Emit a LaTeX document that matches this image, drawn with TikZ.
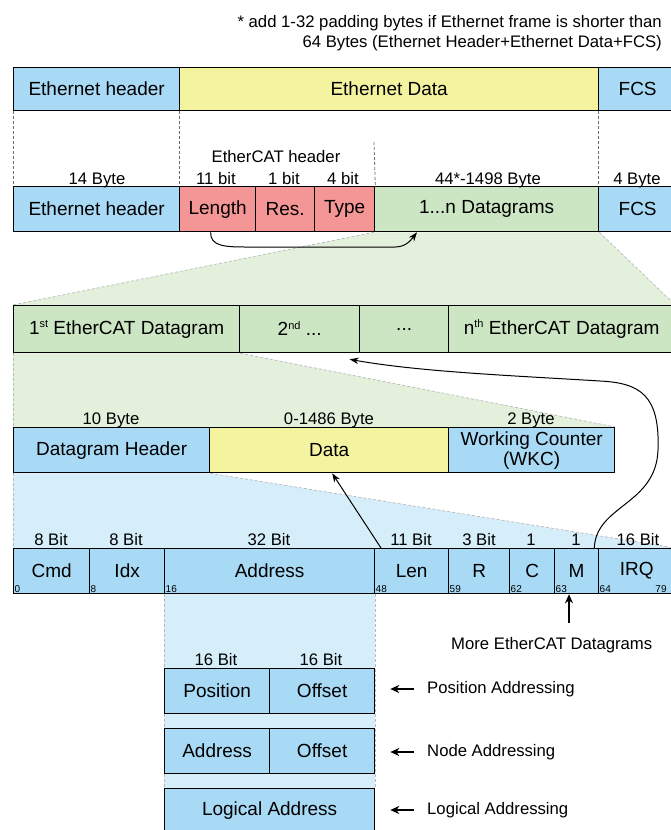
\documentclass[tikz,border=0pt]{standalone}
\usepackage{fontspec}
\setmainfont{Liberation Sans}
\usetikzlibrary{arrows.meta,backgrounds}
\definecolor{boxblue}{RGB}{168,218,246}
\definecolor{boxyellow}{RGB}{244,244,160}
\definecolor{boxpink}{RGB}{245,150,150}
\definecolor{boxgreen}{RGB}{204,230,196}
\definecolor{regg}{RGB}{226,240,220}
\definecolor{regb}{RGB}{214,238,250}
\newcommand\szM{\fontsize{19pt}{20pt}\selectfont}
\newcommand\szS{\fontsize{16.7pt}{19pt}\selectfont}
\newcommand\szT{\fontsize{10pt}{11pt}\selectfont}
\newcommand\supr[1]{\smash{\raisebox{6.5pt}{\fontsize{11pt}{12pt}\selectfont #1}}}
\begin{document}
\begin{tikzpicture}[x=1pt,y=-1pt,
  fld/.style={draw=black, line width=1.3pt, inner sep=0pt, anchor=north west, font=\szM, text=black},
  lbl/.style={font=\szS, inner sep=0pt, anchor=base, text=black},
  num/.style={font=\szT, inner sep=1.5pt, text=black},
  guide/.style={draw=gray!55, line width=0.7pt, dash pattern=on 3pt off 2pt},
  vguide/.style={draw=gray!85!black, line width=0.8pt, dash pattern=on 3pt off 2pt},
  arrthin/.style={draw=black, line width=1pt, -{Stealth[length=9pt,width=6.5pt]}},
  arrthick/.style={draw=black, line width=1.6pt, -{Stealth[length=9pt,width=8pt]}},
  ]
\useasboundingbox (0,0) rectangle (671,830);

% note
\node[lbl, anchor=base east] (note1) at (662,27) {* add 1-32 padding bytes if Ethernet frame is shorter than};
\node[lbl, anchor=base east] (note2) at (662,47) {64 Bytes (Ethernet Header+Ethernet Data+FCS)};

% row 1
\node[fld, fill=boxblue, minimum width=166pt, minimum height=43pt] (eh1) at (13,67) {Ethernet header};
\node[fld, fill=boxyellow, minimum width=419pt, minimum height=43pt] (ed1) at (179,67) {Ethernet Data};
\node[fld, fill=boxblue, minimum width=78pt, minimum height=43pt] (fcs1) at (598,67) {FCS};

% row 2
\node[fld, fill=boxblue, minimum width=166pt, minimum height=45pt] (eh2) at (13,186) {Ethernet header};
\node[fld, fill=boxpink, minimum width=76pt, minimum height=45pt] (len) at (179,186) {Length};
\node[fld, fill=boxpink, minimum width=59pt, minimum height=45pt] (res) at (255,186) {Res.};
\node[fld, fill=boxpink, minimum width=60pt, minimum height=45pt] (typ) at (314,186) {Type};
\node[fld, fill=boxgreen, minimum width=224pt, minimum height=45pt] (dg) at (374,186) {1...n Datagrams};
\node[fld, fill=boxblue, minimum width=78pt, minimum height=45pt] (fcs2) at (598,186) {FCS};

\node[lbl] (ech) at (276,162) {EtherCAT header};
\node[lbl] (b14) at (97,184) {14 Byte};
\node[lbl] (b11) at (216,184) {11 bit};
\node[lbl] (b1) at (284,184) {1 bit};
\node[lbl] (b4) at (343,184) {4 bit};
\node[lbl] (b44) at (488,184) {44*-1498 Byte};
\node[lbl] (b4B) at (637,184) {4 Byte};

\draw[vguide] (eh1.south west) -- (eh2.north west);
\draw[vguide] (ed1.south west) -- (len.north west);
\draw[vguide] (fcs1.south west) -- (fcs2.north west);
\coordinate (ectop) at (374,142);
\draw[vguide] (ectop) -- (typ.north east);

% datagram row
\node[fld, fill=boxgreen, minimum width=226pt, minimum height=47pt] (d1) at (13,305) {1\supr{st} EtherCAT Datagram};
\node[fld, fill=boxgreen, minimum width=120pt, minimum height=47pt] (d2) at (239,305) {2\supr{nd} ...};
\node[fld, fill=boxgreen, minimum width=89pt, minimum height=47pt] (d3) at (359,305) {...};
\node[fld, fill=boxgreen, minimum width=226pt, minimum height=47pt] (dn) at (448,305) {n\supr{th} EtherCAT Datagram};

% datagram structure
\node[fld, fill=boxblue, minimum width=196pt, minimum height=45pt] (dh) at (13,427) {Datagram Header};
\node[fld, fill=boxyellow, minimum width=239pt, minimum height=45pt] (data) at (209,427) {Data};
\node[fld, fill=boxblue, minimum width=166pt, minimum height=45pt, align=center] (wkc) at (448,427) {Working Counter\\(WKC)};
\node[lbl] (l10) at (111,424) {10 Byte};
\node[lbl] (l1486) at (329,424) {0-1486 Byte};
\node[lbl] (l2) at (531,424) {2 Byte};

% header fields
\node[fld, fill=boxblue, minimum width=76pt, minimum height=45pt] (cmd) at (13,548) {Cmd};
\node[fld, fill=boxblue, minimum width=75pt, minimum height=45pt] (idx) at (89,548) {Idx};
\node[fld, fill=boxblue, minimum width=210pt, minimum height=45pt] (addr) at (164,548) {Address};
\node[fld, fill=boxblue, minimum width=74pt, minimum height=45pt] (lenf) at (374,548) {Len};
\node[fld, fill=boxblue, minimum width=61pt, minimum height=45pt] (rf) at (448,548) {R};
\node[fld, fill=boxblue, minimum width=45pt, minimum height=45pt] (cf) at (509,548) {C};
\node[fld, fill=boxblue, minimum width=44pt, minimum height=45pt] (mf) at (554,548) {M};
\node[fld, fill=boxblue, minimum width=76pt, minimum height=45pt] (irq) at (598,548) {IRQ};

\node[lbl] (t1) at (51,545) {8 Bit};
\node[lbl] (t2) at (126,545) {8 Bit};
\node[lbl] (t3) at (269,545) {32 Bit};
\node[lbl] (t4) at (411,545) {11 Bit};
\node[lbl] (t5) at (479,545) {3 Bit};
\node[lbl] (t6) at (531,545) {1};
\node[lbl] (t7) at (576,545) {1};
\node[lbl] (t8) at (638,545) {16 Bit};

\node[num, anchor=south west] (n0) at (cmd.south west) {0};
\node[num, anchor=south west] (n8) at (idx.south west) {8};
\node[num, anchor=south west] (n16) at (addr.south west) {16};
\node[num, anchor=south west] (n48) at (lenf.south west) {48};
\node[num, anchor=south west] (n59) at (rf.south west) {59};
\node[num, anchor=south west] (n62) at (cf.south west) {62};
\node[num, anchor=south west] (n63) at (mf.south west) {63};
\node[num, anchor=south west] (n64) at (irq.south west) {64};
\node[num, anchor=south east] (n79) at ([xshift=-7pt]irq.south east) {79};

% addressing
\node[fld, fill=boxblue, minimum width=105pt, minimum height=45pt] (pos) at (164,668) {Position};
\node[fld, fill=boxblue, minimum width=105pt, minimum height=45pt] (off1) at (269,668) {Offset};
\node[fld, fill=boxblue, minimum width=105pt, minimum height=45pt] (nad) at (164,728) {Address};
\node[fld, fill=boxblue, minimum width=105pt, minimum height=45pt] (off2) at (269,728) {Offset};
\node[fld, fill=boxblue, minimum width=210pt, minimum height=44pt] (lga) at (164,788) {Logical Address};
\node[lbl] (s1) at (216,665) {16 Bit};
\node[lbl] (s2) at (321,665) {16 Bit};

\node[lbl, anchor=west] (pa) at (427,689) {Position Addressing};
\node[lbl, anchor=west] (na) at (427,752) {Node Addressing};
\node[lbl, anchor=west] (la) at (427,810) {Logical Addressing};
\draw[arrthick, shorten <=13pt, shorten >=15pt] (pa.west) -- (pa.west -| off1.east);
\draw[arrthick, shorten <=13pt, shorten >=15pt] (na.west) -- (na.west -| off2.east);
\draw[arrthick, shorten <=13pt, shorten >=15pt] (la.west) -- (la.west -| lga.east);

\node[lbl, anchor=base west] (md) at (451,649) {More EtherCAT Datagrams};
\coordinate (mtail) at (569,623);
\draw[arrthick] (mtail) -- (mtail |- mf.south);

% connectors
\draw[arrthin] ([xshift=-7pt]len.south) .. controls (210,246) and (225,247) .. (245,247) -- (395,247) .. controls (406,247) and (411,240) .. ([xshift=43pt]dg.south west);
\draw[arrthin] ([xshift=7pt]lenf.north west) -- ([xshift=3pt]data.south);
\draw[arrthin] ([xshift=-5pt]mf.north east) .. controls (596,505) and (656,505) .. (658,450) .. controls (660,395) and (640,383) .. (600,381) .. controls (520,376) and (420,372) .. ([xshift=50pt,yshift=-6pt]d2.south);

% background regions
\begin{scope}[on background layer]
\fill[regg] (dg.south west) -- (dg.south east) -- (dn.north east) -- (d1.north west) -- cycle;
\draw[guide] (dg.south west) -- (d1.north west);
\draw[guide] (dg.south east) -- (dn.north east);
\fill[regg] (d1.south west) -- (d1.south east) -- (wkc.north east) -- (dh.north west) -- cycle;
\draw[guide] (d1.south west) -- (dh.north west);
\draw[guide] (d1.south east) -- (wkc.north east);
\fill[regb] (dh.south west) -- (dh.south east) -- (irq.north east) -- (cmd.north west) -- cycle;
\draw[guide] (dh.south west) -- (cmd.north west);
\draw[guide] (dh.south east) -- (irq.north east);
\fill[regb] (addr.south west) rectangle (lga.north east);
\draw[guide] (addr.south west) -- (lga.north west);
\draw[guide] (addr.south east) -- (lga.north east);
\end{scope}
\end{tikzpicture}
\end{document}
